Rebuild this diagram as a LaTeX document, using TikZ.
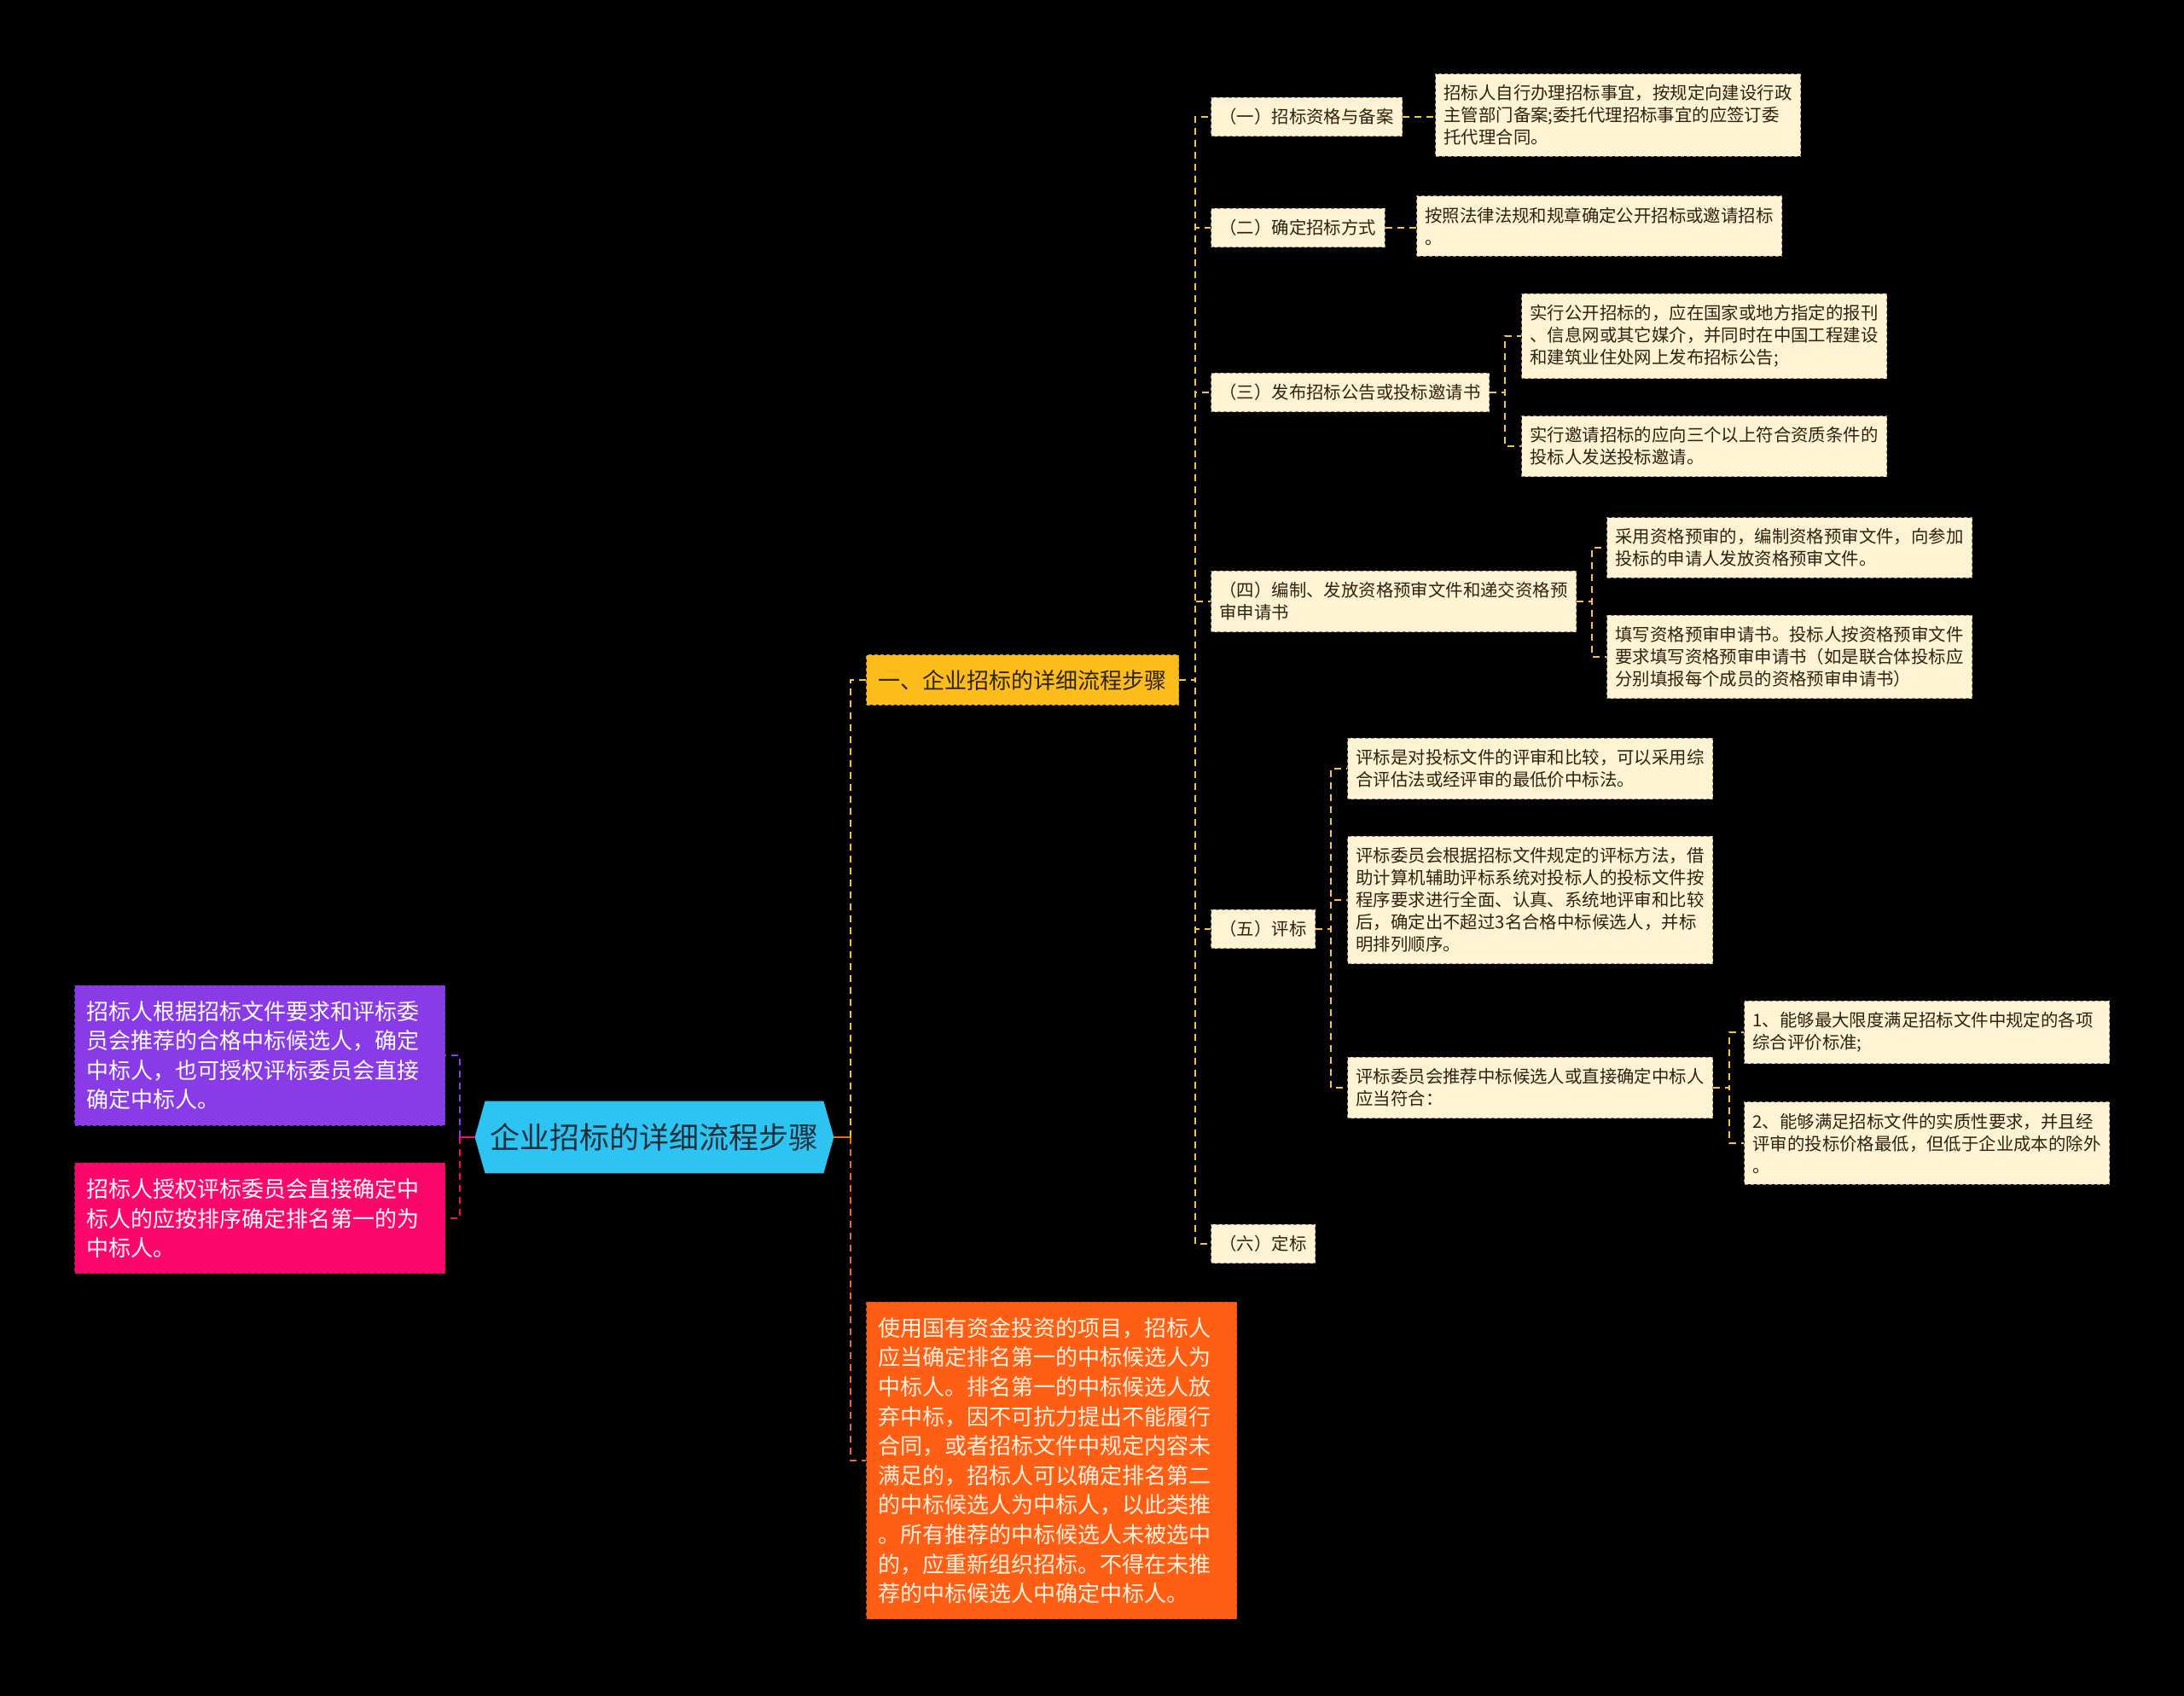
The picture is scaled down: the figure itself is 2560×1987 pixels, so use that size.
\documentclass[tikz,border=0pt]{standalone}
\usepackage{fontspec}
\setmainfont{Noto Sans CJK SC}
\usetikzlibrary{backgrounds}
\definecolor{cream}{RGB}{255,243,212}
\definecolor{creamedge}{RGB}{150,140,112}
\definecolor{ink}{RGB}{44,36,18}
\definecolor{gold}{RGB}{251,188,28}
\definecolor{goldline}{RGB}{246,196,66}
\definecolor{flame}{RGB}{255,94,20}
\definecolor{flameline}{RGB}{240,104,40}
\definecolor{grape}{RGB}{138,59,232}
\definecolor{rose}{RGB}{252,8,108}
\definecolor{sky}{RGB}{46,196,242}
\definecolor{rootink}{RGB}{30,47,60}
\newcommand{\leaffont}{\fontsize{10.2pt}{13pt}\selectfont}
\newcommand{\midfont}{\fontsize{13pt}{17.3pt}\selectfont}
\newcommand{\rootfont}{\fontsize{17.5pt}{21pt}\selectfont}
\tikzset{
  box/.style={draw, dash pattern=on 2pt off 1.5pt, line width=0.5pt, align=left, anchor=west},
  leaf/.style={box, fill=cream, draw=creamedge, text=ink, font=\leaffont, inner xsep=5pt, inner ysep=6.5pt},
  leafw/.style={leaf, text width=204pt},
  midbox/.style={box, font=\midfont, inner xsep=7pt, inner ysep=9pt, text width=203pt},
  rootbox/.style={font=\rootfont, text=rootink, minimum width=198pt, minimum height=42pt, inner sep=0pt},
  link/.style={dash pattern=on 4pt off 3pt, line width=1pt}
}
\begin{document}
\begin{tikzpicture}[x=0.5pt,y=-0.5pt]
\useasboundingbox (0,0) rectangle (2560,1987);
\node[rootbox] (root) at (767,1333) {企业招标的详细流程步骤};
% left side
\node[midbox, fill=grape, draw=grape!80!black, text=white] (lp1) at (87,1237) {招标人根据招标文件要求和评标委\\员会推荐的合格中标候选人，确定\\中标人，也可授权评标委员会直接\\确定中标人。};
\node[midbox, fill=rose, draw=rose!80!black, text=white] (lp2) at (87,1428) {招标人授权评标委员会直接确定中\\标人的应按排序确定排名第一的为\\中标人。};
% right side
\node[midbox, text width=, fill=gold, draw=gold!80!black, text=ink, inner ysep=8.5pt] (s1) at (1015,797) {一、企业招标的详细流程步骤};
\node[midbox, fill=flame, draw=flame!80!black, text={rgb,255:red,255;green,242;blue,224}] (s2) at (1015,1712) {使用国有资金投资的项目，招标人\\应当确定排名第一的中标候选人为\\中标人。排名第一的中标候选人放\\弃中标，因不可抗力提出不能履行\\合同，或者招标文件中规定内容未\\满足的，招标人可以确定排名第二\\的中标候选人为中标人，以此类推\\。所有推荐的中标候选人未被选中\\的，应重新组织招标。不得在未推\\荐的中标候选人中确定中标人。};
\node[leaf] (c1) at (1419,137) {（一）招标资格与备案};
\node[leaf] (c2) at (1419,267) {（二）确定招标方式};
\node[leaf] (c3) at (1419,460) {（三）发布招标公告或投标邀请书};
\node[leaf] (c4) at (1419,705) {（四）编制、发放资格预审文件和递交资格预\\审申请书};
\node[leaf] (c5) at (1419,1089) {（五）评标};
\node[leaf] (c6) at (1419,1458) {（六）定标};
\node[leafw] (d1) at (1682,135) {招标人自行办理招标事宜，按规定向建设行政\\主管部门备案;委托代理招标事宜的应签订委\\托代理合同。};
\node[leafw] (d2) at (1660,265) {按照法律法规和规章确定公开招标或邀请招标\\。};
\node[leafw] (d3a) at (1783,394) {实行公开招标的，应在国家或地方指定的报刊\\、信息网或其它媒介，并同时在中国工程建设\\和建筑业住处网上发布招标公告;};
\node[leafw] (d3b) at (1783,523) {实行邀请招标的应向三个以上符合资质条件的\\投标人发送投标邀请。};
\node[leafw] (d4a) at (1883,642) {采用资格预审的，编制资格预审文件，向参加\\投标的申请人发放资格预审文件。};
\node[leafw] (d4b) at (1883,770) {填写资格预审申请书。投标人按资格预审文件\\要求填写资格预审申请书（如是联合体投标应\\分别填报每个成员的资格预审申请书）};
\node[leafw] (d5a) at (1579,901) {评标是对投标文件的评审和比较，可以采用综\\合评估法或经评审的最低价中标法。};
\node[leafw] (d5b) at (1579,1055) {评标委员会根据招标文件规定的评标方法，借\\助计算机辅助评标系统对投标人的投标文件按\\程序要求进行全面、认真、系统地评审和比较\\后，确定出不超过3名合格中标候选人，并标\\明排列顺序。};
\node[leafw] (d5c) at (1579,1275) {评标委员会推荐中标候选人或直接确定中标人\\应当符合：};
\node[leafw] (e1) at (2044,1210) {1、能够最大限度满足招标文件中规定的各项\\综合评价标准;};
\node[leafw] (e2) at (2044,1340) {2、能够满足招标文件的实质性要求，并且经\\评审的投标价格最低，但低于企业成本的除外\\。};
% connectors
\draw[link, rose, solid] ([xshift=-6pt]root.west) -- ++(-18,0) coordinate (lj);
\draw[link, grape] (lj) |- (lp1.east);
\draw[link, rose] (lj) |- (lp2.east);
\draw[link, flameline, solid] ([xshift=6pt]root.east) -- ++(20,0) coordinate (rj);
\draw[link, goldline] (rj) |- (s1.west);
\draw[link, flameline] (rj) |- (s2.west);
\foreach \c in {c1,c2,c3,c4,c5,c6}{\draw[link, goldline] (s1.east) -- ++(19,0) |- (\c.west);}
\draw[link, goldline] (c1.east) -- (c1.east -| d1.west);
\draw[link, goldline] (c2.east) -- (c2.east -| d2.west);
\foreach \d in {d3a,d3b}{\draw[link, goldline] (c3.east) -- ++(18,0) |- (\d.west);}
\foreach \d in {d4a,d4b}{\draw[link, goldline] (c4.east) -- ++(18,0) |- (\d.west);}
\foreach \d in {d5a,d5b,d5c}{\draw[link, goldline] (c5.east) -- ++(18,0) |- (\d.west);}
\foreach \d in {e1,e2}{\draw[link, goldline] (d5c.east) -- ++(19,0) |- (\d.west);}
\begin{scope}[on background layer]
\fill[black] (-4,-4) rectangle (2564,1991);
\fill[sky] (root.north west) -- (root.north east) -- ([xshift=6pt]root.east) -- (root.south east) -- (root.south west) -- ([xshift=-6pt]root.west) -- cycle;
\end{scope}
\end{tikzpicture}
\end{document}
